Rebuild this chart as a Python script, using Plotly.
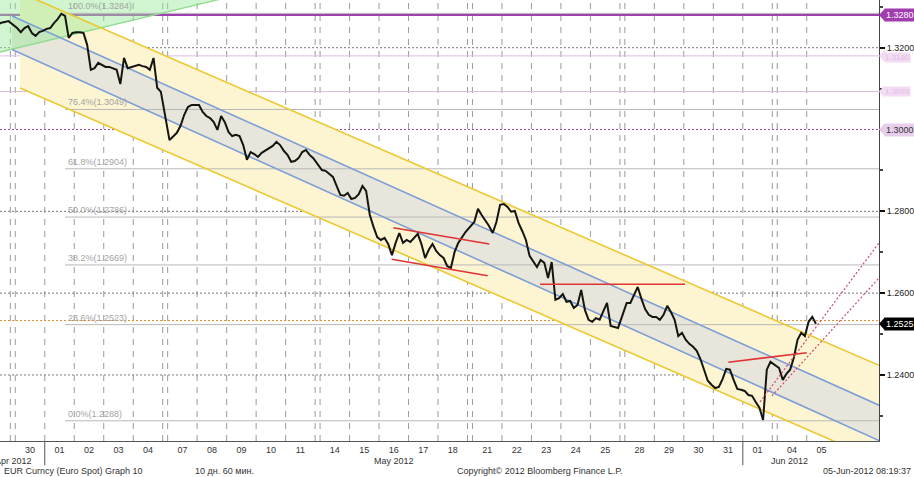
import plotly.graph_objects as go
from datetime import date

# ---------------- data ----------------
day_dates = ["2012-04-27", "2012-04-30", "2012-05-01", "2012-05-02", "2012-05-03", "2012-05-04",
             "2012-05-07", "2012-05-08", "2012-05-09", "2012-05-10", "2012-05-11",
             "2012-05-14", "2012-05-15", "2012-05-16", "2012-05-17", "2012-05-18",
             "2012-05-21", "2012-05-22", "2012-05-23", "2012-05-24", "2012-05-25",
             "2012-05-28", "2012-05-29", "2012-05-30", "2012-05-31", "2012-06-01",
             "2012-06-04", "2012-06-05"]
day_labels = ["27", "30", "01", "02", "03", "04", "07", "08", "09", "10", "11",
              "14", "15", "16", "17", "18", "21", "22", "23", "24", "25",
              "28", "29", "30", "31", "01", "04", "05"]

# EUR/USD, 3-hour samples (27 Apr: last 4 slots; 05 Jun: first 3 slots)
week1 = [1.3256, 1.3261, 1.3263, 1.3265,
         1.3248, 1.3238, 1.3248, 1.3253, 1.3236, 1.3229, 1.3238, 1.3241,
         1.3246, 1.3248, 1.3260, 1.3270, 1.3283, 1.3278, 1.3224, 1.3236,
         1.3238, 1.3238, 1.3236, 1.3207, 1.3146, 1.3150, 1.3163, 1.3158,
         1.3153, 1.3153, 1.3150, 1.3146, 1.3111, 1.3175, 1.3150, 1.3153,
         1.3155, 1.3158, 1.3155, 1.3153, 1.3146, 1.3175, 1.3102, 1.3092]
week2 = [1.2974, 1.2982, 1.2992, 1.3009, 1.3036, 1.3055, 1.3060, 1.3060,
         1.3060, 1.3043, 1.3033, 1.3028, 1.3018, 1.2999, 1.3033, 1.3018,
         1.2994, 1.2984, 1.2987, 1.2984, 1.2962, 1.2926, 1.2945, 1.2940,
         1.2933, 1.2943, 1.2948, 1.2955, 1.2960, 1.2970, 1.2962, 1.2948,
         1.2938, 1.2921, 1.2923, 1.2930, 1.2945, 1.2950, 1.2938, 1.2930]
week3 = [1.2901, 1.2899, 1.2891, 1.2884, 1.2862, 1.2840, 1.2838, 1.2845,
         1.2830, 1.2833, 1.2842, 1.2862, 1.2850, 1.2791, 1.2762, 1.2737,
         1.2730, 1.2735, 1.2720, 1.2693, 1.2723, 1.2747, 1.2723, 1.2730,
         1.2725, 1.2735, 1.2745, 1.2720, 1.2686, 1.2706, 1.2720, 1.2703,
         1.2693, 1.2686, 1.2666, 1.2662, 1.2701, 1.2723, 1.2735, 1.2750]
week4 = [1.2774, 1.2806, 1.2791, 1.2779, 1.2764, 1.2747, 1.2774, 1.2816,
         1.2818, 1.2811, 1.2799, 1.2801, 1.2772, 1.2752, 1.2730, 1.2691,
         1.2676, 1.2664, 1.2681, 1.2674, 1.2637, 1.2676, 1.2584, 1.2588,
         1.2598, 1.2579, 1.2581, 1.2564, 1.2571, 1.2608, 1.2559, 1.2535,
         1.2530, 1.2539, 1.2535, 1.2554, 1.2576, 1.2520, 1.2517, 1.2515]
week5 = [1.2576, 1.2576, 1.2596, 1.2615, 1.2586, 1.2561, 1.2547, 1.2542,
         1.2542, 1.2535, 1.2547, 1.2569, 1.2554, 1.2535, 1.2495, 1.2503,
         1.2486, 1.2476, 1.2469, 1.2459, 1.2439, 1.2413, 1.2386, 1.2376,
         1.2368, 1.2371, 1.2390, 1.2415, 1.2413, 1.2388, 1.2366, 1.2364,
         1.2361, 1.2351, 1.2349, 1.2334, 1.2320, 1.2290, 1.2413, 1.2432]
week6 = [1.2417, 1.2388, 1.2403, 1.2413, 1.2442, 1.2486, 1.2503, 1.2495,
         1.2530, 1.2542, 1.2525]

# Fibonacci retracement levels
fib_pct = ["100.0%", "76.4%", "61.8%", "50.0%", "38.2%", "23.6%", "0.0%"]
fib_val = [1.3284, 1.3049, 1.2904, 1.2786, 1.2669, 1.2523, 1.2288]

# price-axis ticks
y_ticks = [1.24, 1.26, 1.28, 1.30, 1.32]
y_tick_text = ["1.2400", "1.2600", "1.2800", "1.3000", "1.3200"]

# drawn channels / lines (trading-hour, price) endpoints
yellow_h = [3.9, 702.8]
yellow_up = [1.33346, 1.24236]
yellow_lo = [1.31015, 1.21904]
blue_h = [-2.6, 702.8]
blue_up = [1.32774, 1.23260]
blue_lo = [1.31954, 1.22398]
green_h = [-12.41, 199.2]
green_lo = [1.31895, 1.33420]
red_h = [(307.6, 385.7), (306.3, 384.4), (427.0, 545.0), (580.2, 644.0)]
red_p = [(1.27601, 1.27203), (1.26829, 1.26428), (1.26218, 1.26218), (1.24311, 1.24546)]
reddot_h = [(606.0, 702.8), (615.7, 702.8)]
reddot_p = [(1.23341, 1.27227), (1.23488, 1.26372)]

# marked price levels
level_purple = 1.3280
level_light = [1.3180, 1.3093]
level_dotted = 1.3000
level_orange = 1.2533
last_price = 1.2525

# ---------------- construct x positions (trading hours) ----------------
base = date(2012, 4, 30)
starts = []
for j, ds in enumerate(day_dates):
    d = date.fromisoformat(ds)
    w = (d - base).days // 7
    starts.append(24 * (j - 1) + 4 * w)

closes = week1 + week2 + week3 + week4 + week5 + week6
xs = []
for j, st in enumerate(starts):
    if j == 0:
        slots = range(4, 8)
    elif j == len(starts) - 1:
        slots = range(0, 3)
    else:
        slots = range(8)
    for s in slots:
        xs.append(st + 3 * s + 1.5)
n = min(len(xs), len(closes))
xs, closes = xs[:n], closes[:n]

XR = [-12.41, 702.8]
YR = [1.22386, 1.33166]

FONT = "Liberation Sans"

fig = go.Figure()

shapes = []

# fills
shapes.append(dict(type="path", xref="x", yref="y", layer="between",
                   path=f"M {yellow_h[0]},{yellow_up[0]} L {yellow_h[1]},{yellow_up[1]} "
                        f"L {yellow_h[1]},{yellow_lo[1]} L {yellow_h[0]},{yellow_lo[0]} Z",
                   fillcolor="#fdf4d2", line=dict(width=0)))
shapes.append(dict(type="path", xref="x", yref="y", layer="between",
                   path=f"M {blue_h[0]},{blue_up[0]} L {blue_h[1]},{blue_up[1]} "
                        f"L {blue_h[1]},{blue_lo[1]} L {blue_h[0]},{blue_lo[0]} Z",
                   fillcolor="#e8e5db", line=dict(width=0)))
shapes.append(dict(type="path", xref="x", yref="y", layer="between",
                   path=f"M {green_h[0]},{green_lo[0]} L {green_h[1]},{green_lo[1]} "
                        f"L {green_h[1]},1.345 L {green_h[0]},1.345 Z",
                   fillcolor="rgba(150,232,150,0.45)", line=dict(width=0)))

# vertical day separators
for j, ds in enumerate(day_dates):
    d = date.fromisoformat(ds)
    xs_lines = [starts[j]]
    if d.weekday() == 0:
        xs_lines.append(starts[j] - 4)
    for xv in xs_lines:
        if XR[0] < xv < XR[1]:
            shapes.append(dict(type="line", xref="x", yref="paper", x0=xv, x1=xv, y0=0, y1=1,
                               layer="between",
                               line=dict(color="#9a9a9a", width=1, dash="6px,6px")))
    if d.day == 1:
        shapes.append(dict(type="line", xref="x", yref="paper", x0=starts[j], x1=starts[j],
                           y0=0, y1=-0.055, line=dict(color="#555555", width=1)))

# horizontal grid (dotted)
for yv in y_ticks:
    shapes.append(dict(type="line", xref="paper", yref="y", x0=0, x1=1, y0=yv, y1=yv,
                       layer="between", line=dict(color="#7a7a7a", width=1, dash="2px,2px")))

# fib lines
for v in fib_val:
    shapes.append(dict(type="line", xref="x", yref="y", x0=40.5, x1=XR[1], y0=v, y1=v,
                       layer="between", line=dict(color="#b8b8b8", width=1)))

# level lines
for v in level_light:
    shapes.append(dict(type="line", xref="paper", yref="y", x0=0, x1=1, y0=v, y1=v,
                       layer="between", line=dict(color="#dcbde3", width=1)))
shapes.append(dict(type="line", xref="paper", yref="y", x0=0, x1=1, y0=level_dotted, y1=level_dotted,
                   layer="between", line=dict(color="#a848b4", width=1, dash="2px,2px")))
shapes.append(dict(type="line", xref="paper", yref="y", x0=0, x1=1, y0=level_orange, y1=level_orange,
                   layer="between", line=dict(color="#e08a2a", width=1, dash="2px,2px")))
shapes.append(dict(type="line", xref="paper", yref="y", x0=0, x1=1, y0=level_purple, y1=level_purple,
                   layer="between", line=dict(color="#a040b0", width=2.2)))

# channel lines
shapes.append(dict(type="line", xref="x", yref="y", layer="between",
                   x0=green_h[0], x1=green_h[1], y0=green_lo[0], y1=green_lo[1],
                   line=dict(color="#8fdc8f", width=1.3)))
for hh, pp, col in [(yellow_h, yellow_up, "#ecc933"), (yellow_h, yellow_lo, "#ecc933"),
                    (blue_h, blue_up, "#7d9fd6"), (blue_h, blue_lo, "#7d9fd6")]:
    shapes.append(dict(type="line", xref="x", yref="y", layer="between",
                       x0=hh[0], x1=hh[1], y0=pp[0], y1=pp[1],
                       line=dict(color=col, width=1.6)))

# red trend lines
for hh, pp in zip(red_h, red_p):
    shapes.append(dict(type="line", xref="x", yref="y", layer="above",
                       x0=hh[0], x1=hh[1], y0=pp[0], y1=pp[1],
                       line=dict(color="#e03434", width=1.5)))
for hh, pp in zip(reddot_h, reddot_p):
    shapes.append(dict(type="line", xref="x", yref="y", layer="above",
                       x0=hh[0], x1=hh[1], y0=pp[0], y1=pp[1],
                       line=dict(color="#d24a64", width=1.2, dash="2px,2px")))

# price trace
fig.add_trace(go.Scatter(x=xs, y=closes, mode="lines",
                         line=dict(color="#151510", width=2), hoverinfo="skip",
                         showlegend=False))

annotations = []
for p, v in zip(fib_pct, fib_val):
    annotations.append(dict(x=41.3, y=v, xref="x", yref="y", xanchor="left", yanchor="bottom",
                            text=f"{p}({v:.4f})", showarrow=False,
                            font=dict(family=FONT, size=9, color="#a4a4a4")))

# right-side boxed labels
boxes = [(level_purple, "1.3280", "#a23db0", "#ffffff", 9, 1, 0),
         (level_light[0], "1.3180", "#f3dcf3", "#e2bfe2", 8, 0, -2),
         (level_light[1], "1.3093", "#f3dcf3", "#e2bfe2", 8, 0, 0),
         (level_dotted, "1.3000", "#e7cfeb", "#333333", 9, 1, 0),
         (last_price, "1.2525", "#000000", "#ffffff", 9, 1, 0)]
dy = 0.0016
for v, t, bg, fc, fs, bp, ysh in boxes:
    annotations.append(dict(x=1, y=v, xref="paper", yref="y", xanchor="left", yanchor="middle",
                            xshift=5, yshift=ysh, text=t, showarrow=False, bgcolor=bg,
                            borderpad=bp, font=dict(family=FONT, size=fs, color=fc)))
    shapes.append(dict(type="path", xref="paper", yref="y", layer="above",
                       path=f"M 1.0,{v} L 1.0068,{v + dy} L 1.0068,{v - dy} Z",
                       fillcolor=bg, line=dict(width=0)))

# month labels
for t, xv in [("Apr 2012", -1.8), ("May 2012", 308.2), ("Jun 2012", 630.3)]:
    annotations.append(dict(x=xv, y=-0.046, xref="x", yref="paper", xanchor="center",
                            yanchor="middle", text=t, showarrow=False,
                            font=dict(family=FONT, size=9, color="#333333")))

# footer
foot_y = -0.069
for t, xv, anc in [("EUR Curncy (Euro Spot) Graph 10", 2 / 879, "left"),
                   ("10 дн. 60 мин.", 193 / 879, "left"),
                   ("Copyright© 2012 Bloomberg Finance L.P.", 455 / 879, "left"),
                   ("05-Jun-2012 08:19:37", 913 / 879, "right")]:
    annotations.append(dict(x=xv, y=foot_y, xref="paper", yref="paper", xanchor=anc,
                            yanchor="middle", text=t, showarrow=False,
                            font=dict(family=FONT, size=9, color="#333333")))

fig.update_layout(
    width=914, height=477,
    margin=dict(l=0, r=35, t=0, b=36),
    paper_bgcolor="white", plot_bgcolor="white",
    font=dict(family=FONT, size=9, color="#333333"),
    showlegend=False,
    shapes=shapes,
    annotations=annotations,
    xaxis=dict(range=XR, showgrid=False, zeroline=False,
               tickmode="array", tickvals=[s + 12 for s in starts], ticktext=day_labels,
               showline=True, linecolor="#555555", linewidth=1, ticks="",
               tickfont=dict(family=FONT, size=9, color="#333333")),
    yaxis=dict(range=YR, side="right", showgrid=False, zeroline=False,
               tickmode="array", tickvals=y_ticks, ticktext=y_tick_text,
               showline=True, linecolor="#444444", linewidth=1,
               ticks="outside", ticklen=5, tickwidth=1.5, tickcolor="#111111",
               minor=dict(ticks="outside", ticklen=3, tick0=1.23, dtick=0.02, tickcolor="#444444"),
               tickfont=dict(family=FONT, size=9, color="#222222")),
)

fig.write_html("out.html",
               config={"displayModeBar": False},
               post_script="document.body.style.margin='0';document.body.style.padding='0';"
                           "document.body.style.overflow='hidden';")
